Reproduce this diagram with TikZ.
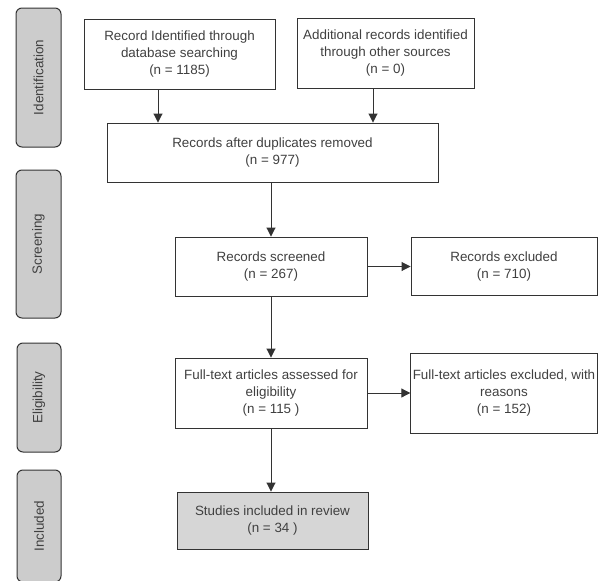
\documentclass[tikz,border=0pt]{standalone}
\usepackage{fontspec}
\setmainfont{Liberation Sans}
\usetikzlibrary{arrows.meta}
\definecolor{ln}{HTML}{333333}
\definecolor{tx}{HTML}{404040}
\definecolor{lab}{HTML}{CCCCCC}
\definecolor{incl}{HTML}{D6D6D6}
\tikzset{
  box/.style={draw=ln, line width=0.9pt, rectangle, align=center, text=tx,
    font=\fontsize{13.4}{17}\selectfont, inner sep=2pt},
  phase/.style={draw=ln, line width=1pt, fill=lab, rounded corners=6pt,
    text=tx, font=\fontsize{13.4}{17}\selectfont, inner sep=0pt},
  arr/.style={draw=ln, line width=0.9pt, -{Triangle[length=9pt,width=9pt]}}
}
\begin{document}
\begin{tikzpicture}[x=1pt,y=-1pt]
\useasboundingbox (0,0) rectangle (606,581);
% phase labels
\node[phase, minimum width=45pt, minimum height=139pt] (pid) at (38.5,77.5) {};
\node[text=tx, font=\fontsize{13.4}{17}\selectfont, rotate=90] (tid) at (pid.center) {Identification};
\node[phase, minimum width=45pt, minimum height=148pt] (pscr) at (38.5,244) {};
\node[text=tx, font=\fontsize{13.4}{17}\selectfont, rotate=90] (tscr) at (pscr.center) {Screening};
\node[phase, minimum width=44pt, minimum height=109pt] (peli) at (39,397.5) {};
\node[text=tx, font=\fontsize{13.4}{17}\selectfont, rotate=90] (teli) at (peli.center) {Eligibility};
\node[phase, minimum width=44pt, minimum height=112pt] (pinc) at (39,526) {};
\node[text=tx, font=\fontsize{13.4}{17}\selectfont, rotate=90] (tinc) at (pinc.center) {Included};
% boxes
\node[box, minimum width=191pt, minimum height=70pt] (b1) at (179.5,54)
  {Record Identified through\\database searching\\(n = 1185)};
\node[box, minimum width=177pt, minimum height=70pt] (b2) at (385.5,53)
  {Additional records identified\\through other sources\\(n = 0)};
\node[box, minimum width=331pt, minimum height=59pt] (b3) at (272.5,152.5)
  {Records after duplicates removed\\(n = 977)};
\node[box, minimum width=192pt, minimum height=59pt] (scr) at (271,266.5)
  {Records screened\\(n = 267)};
\node[box, minimum width=186pt, minimum height=58pt] (exc) at (504,266.5)
  {Records excluded\\(n = 710)};
\node[box, minimum width=192pt, minimum height=70pt] (ft) at (271,393)
  {Full-text articles assessed for\\eligibility\\(n = 115 )};
\node[box, minimum width=186pt, minimum height=80pt] (ftx) at (504,393)
  {Full-text articles excluded, with\\reasons\\(n = 152)};
\node[box, fill=incl, minimum width=191pt, minimum height=57pt] (incb) at (272.5,520.5)
  {Studies included in review\\(n = 34 )};
% connectors
\draw[arr] ([xshift=-21.5pt]b1.south) -- ([xshift=-21.5pt]b1.south |- b3.north);
\draw[arr] ([xshift=-12.5pt]b2.south) -- ([xshift=-12.5pt]b2.south |- b3.north);
\draw[arr] (b3.south -| scr.north) -- (scr.north);
\draw[arr] (scr.east) -- (scr.east -| exc.west);
\draw[arr] (scr.south) -- (ft.north);
\draw[arr] (ft.east) -- (ft.east -| ftx.west);
\draw[arr] (ft.south) -- (ft.south |- incb.north);
\end{tikzpicture}
\end{document}
